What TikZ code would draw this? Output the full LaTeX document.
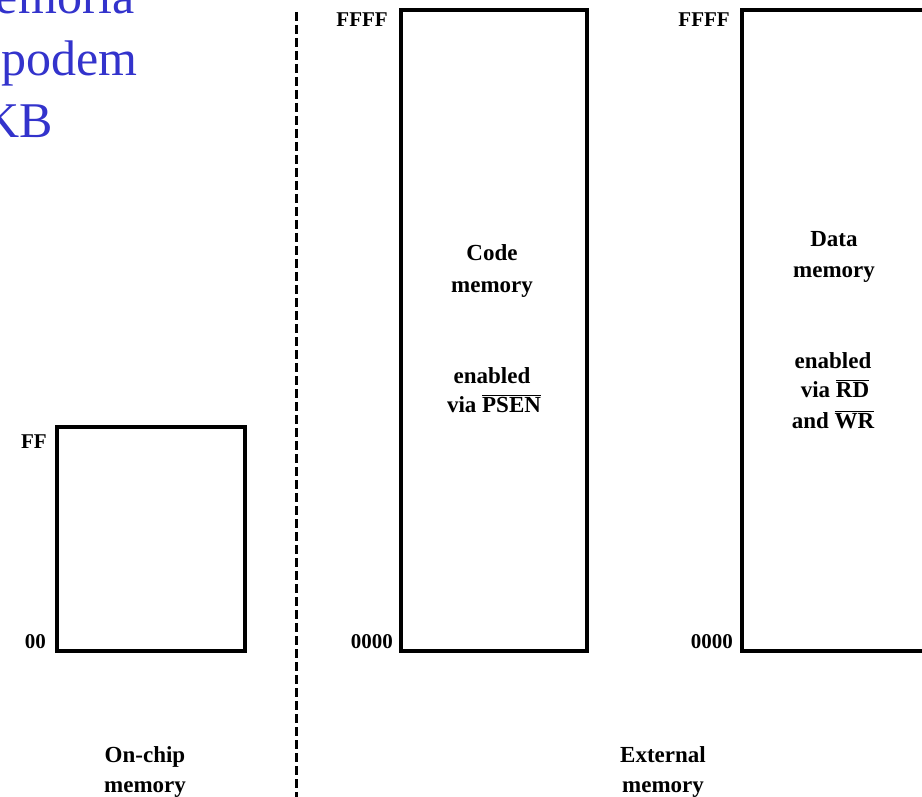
\documentclass[tikz,border=0pt]{standalone}
\usepackage{fontspec}
\setmainfont{Liberation Serif}
\definecolor{slideblue}{RGB}{51,51,204}
\newcommand\ovl[1]{$\overline{\hbox{#1}}$}
\tikzset{
  membox/.style={draw, line width=3.2pt, inner sep=0pt, outer sep=0pt},
  lbl/.style={font=\fontsize{23}{30}\selectfont\bfseries, inner sep=0pt},
  addr/.style={font=\fontsize{21}{25}\selectfont\bfseries, inner sep=0pt},
  slidetxt/.style={font=\fontsize{50}{60}\selectfont, text=slideblue, inner sep=0pt},
  divider/.style={line width=3pt, dash pattern=on 9pt off 4pt}
}
\begin{document}
\begin{tikzpicture}[x=1pt,y=-1pt]
\useasboundingbox (0,0) rectangle (922,797);
% slide text
\node[slidetxt, anchor=base east] (t1) at (135,14) {emoria};
\node[slidetxt, anchor=base east] (t2) at (138,76) {podem};
\node[slidetxt, anchor=base east] (t3) at (53,138) {KB};
% divider
\coordinate (dtop) at (296,12);
\coordinate (dbot) at (296,797);
\draw[divider] (dtop) -- (dbot);
% memory boxes
\node[membox, anchor=north west, minimum width=188pt, minimum height=224pt] (onchip) at (57,427) {};
\node[membox, anchor=north west, minimum width=186pt, minimum height=641pt] (code) at (401,10) {};
\coordinate (dtr) at (922,10);
\coordinate (dtl) at (742,10);
\coordinate (dbl) at (742,651);
\coordinate (dbr) at (922,651);
\draw[line width=3.2pt] (dtr) -- (dtl) -- (dbl) -- (dbr);
% addresses
\node[addr, anchor=base east] (ffff1) at (388,27) {FFFF};
\node[addr, anchor=base east] (ffff2) at (730,27) {FFFF};
\node[addr, anchor=base east] (ff) at (47,448) {FF};
\node[addr, anchor=base east] (z0) at (46,648) {00};
\node[addr, anchor=base east] (z1) at (393,648) {0000};
\node[addr, anchor=base east] (z2) at (733,648) {0000};
% code memory labels
\node[lbl, anchor=base] (c1) at (492,260) {Code};
\node[lbl, anchor=base] (c2) at (492,292) {memory};
\node[lbl, anchor=base] (c3) at (492,383) {enabled};
\node[lbl, anchor=base] (c4) at (494,412) {via \ovl{PSEN}};
% data memory labels
\node[lbl, anchor=base] (d1) at (834,247) {Data};
\node[lbl, anchor=base] (d2) at (834,277) {memory};
\node[lbl, anchor=base] (d3) at (833,368) {enabled};
\node[lbl, anchor=base] (d4) at (835,397) {via \ovl{RD}};
\node[lbl, anchor=base] (d5) at (833,428) {and \ovl{WR}};
% bottom captions
\node[lbl, anchor=base] (o1) at (145,762) {On-chip};
\node[lbl, anchor=base] (o2) at (145,792) {memory};
\node[lbl, anchor=base] (e1) at (663,762) {External};
\node[lbl, anchor=base] (e2) at (663,792) {memory};
\end{tikzpicture}
\end{document}
